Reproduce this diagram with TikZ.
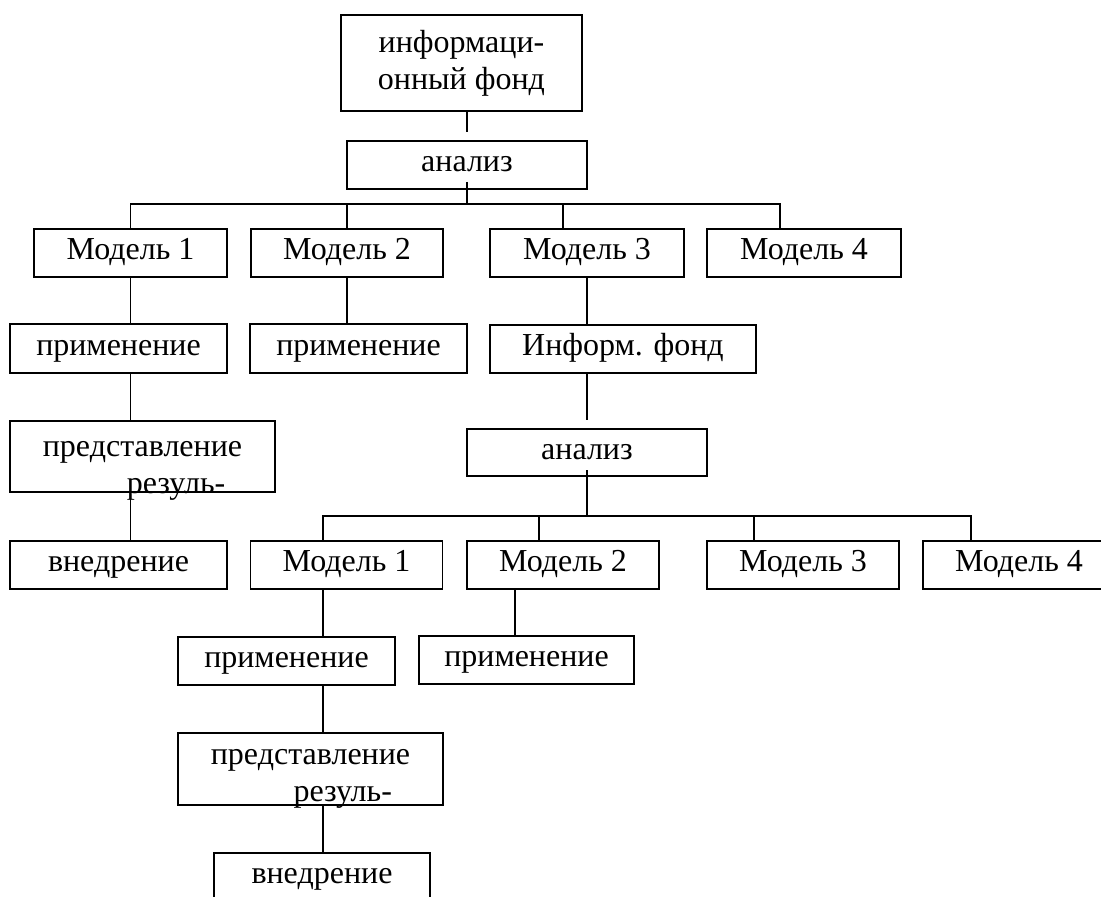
\documentclass[tikz,border=0pt]{standalone}
\usepackage{fontspec}
\setmainfont{Liberation Serif}
\usetikzlibrary{calc}

\begin{document}
\begin{tikzpicture}[x=0.75pt, y=-0.75pt,
  block/.style={draw, line width=1.4pt, minimum height=36pt, inner sep=0pt, text height=15pt, text depth=5pt, font=\fontsize{24}{27.6}\selectfont},
  link/.style={line width=1.1pt},
]
  \useasboundingbox (0,0) rectangle (1101,897);
  \clip (0,0) rectangle (1101,897);

  % Top level
  \node[block, text height=, text depth=, minimum width=181pt, minimum height=72pt, align=center] (fond) at (461.5,63) {информаци-\\онный фонд};
  \node[block, minimum width=180pt] (an1) at (467,165) {анализ};

  % Models, first level
  \node[block, minimum width=145pt] (m1) at (130.5,253) {Модель 1};
  \node[block, minimum width=144pt] (m2) at (347,253) {Модель 2};
  \node[block, minimum width=145pt] (m3) at (587,253) {Модель 3};
  \node[block, minimum width=145pt] (m4) at (804,253) {Модель 4};

  \node[block, minimum width=163pt, minimum height=37pt] (pr1) at (118.5,348.5) {применение};
  \node[block, minimum width=163pt, minimum height=37pt] (pr2) at (358.5,348.5) {применение};
  \node[block, minimum width=199.5pt] (if2) at (623,349) {Информ. фонд};
  \node[block, minimum width=199pt, minimum height=53pt] (rep1) at (142.5,456.5)
    {\raisebox{-22.7pt}[0pt][0pt]{\begin{tabular}[b]{@{}l@{}}представление\\\hspace*{63pt}резуль-\end{tabular}}};
  \node[block, minimum width=163pt] (vn1) at (118.5,565) {внедрение};

  % Second level
  \node[block, minimum width=180pt, minimum height=35pt] (an2) at (587,452.5) {анализ};
  \node[block, minimum width=144pt] (n1) at (346.5,565) {Модель 1};
  \node[block, minimum width=144pt] (n2) at (563,565) {Модель 2};
  \node[block, minimum width=144pt] (n3) at (803,565) {Модель 3};
  \node[block, minimum width=144pt] (n4) at (1019,565) {Модель 4};

  \node[block, minimum width=163pt] (pr3) at (286.5,661) {применение};
  \node[block, minimum width=161pt] (pr4) at (526.5,660) {применение};
  \node[block, minimum width=199pt, minimum height=54pt] (rep2) at (310.5,769)
    {\raisebox{-19pt}[0pt][0pt]{\begin{tabular}[b]{@{}l@{}}представление\\\hspace*{62pt}резуль-\end{tabular}}};
  \node[block, minimum width=162pt] (vn2) at (322,877) {внедрение};

  % Bus lines
  \coordinate (bus1) at (0,204);
  \coordinate (bus2) at (0,516);
  \coordinate (j3) at ($(m3.north)+(-24,0)$);
  \coordinate (j4) at ($(m4.north)+(-24,0)$);
  \coordinate (k1) at ($(n1.north)+(-23.5,0)$);
  \coordinate (k2) at ($(n2.north)+(-24,0)$);
  \coordinate (k3) at ($(n3.north)+(-49,0)$);
  \coordinate (k4) at ($(n4.north)+(-48,0)$);
  \coordinate (k5) at ($(n2.south)+(-48,0)$);

  % First level links
  \draw[link, shorten >=6pt] (an1.north |- fond.south) -- (an1.north);
  \draw[link, shorten <=-6pt] (an1.south) -- (an1.south |- bus1);
  \draw[link] (m1.north) |- (j4 |- bus1) -- (j4);
  \draw[link] (m2.north) -- (m2.north |- bus1);
  \draw[link] (j3) -- (j3 |- bus1);
  \draw[link] (m1.south) -- (m1.south |- pr1.north);
  \draw[link] (m1.south |- pr1.south) -- (m1.south |- rep1.north);
  \draw[link] (m1.south |- rep1.south) -- (m1.south |- vn1.north);
  \draw[link] (m2.south) -- (m2.south |- pr2.north);
  \draw[link] (m3.south) -- (m3.south |- if2.north);
  \draw[link, shorten >=6pt] (an2.north |- if2.south) -- (an2.north);

  % Second level links
  \draw[link, shorten <=-5pt] (an2.south) -- (an2.south |- bus2);
  \draw[link] (k1) |- (k4 |- bus2) -- (k4);
  \draw[link] (k2) -- (k2 |- bus2);
  \draw[link] (k3) -- (k3 |- bus2);
  \draw[link] (k1 |- n1.south) -- (k1 |- pr3.north);
  \draw[link] (k1 |- pr3.south) -- (k1 |- rep2.north);
  \draw[link] (k1 |- rep2.south) -- (k1 |- vn2.north);
  \draw[link] (k5) -- (k5 |- pr4.north);
\end{tikzpicture}
\end{document}
